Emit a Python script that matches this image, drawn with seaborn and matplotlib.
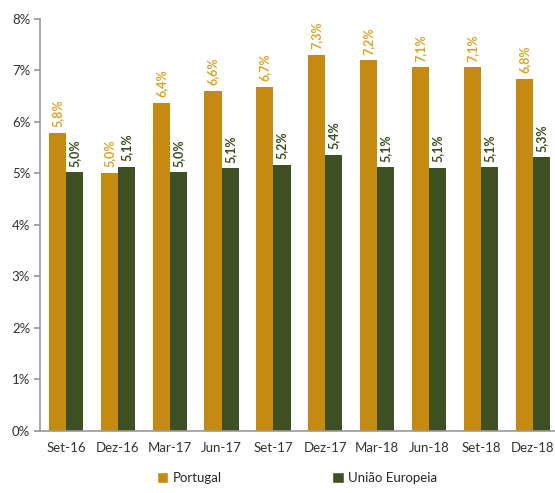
import matplotlib
matplotlib.use("Agg")
import matplotlib.pyplot as plt
import seaborn as sns
import pandas as pd
from matplotlib.patches import Patch
from matplotlib.ticker import FixedLocator

categories = ["Set-16", "Dez-16", "Mar-17", "Jun-17", "Set-17", "Dez-17", "Mar-18", "Jun-18", "Set-18", "Dez-18"]
portugal = [5.79, 5.01, 6.37, 6.60, 6.68, 7.30, 7.19, 7.06, 7.06, 6.83]
ue = [5.02, 5.13, 5.02, 5.10, 5.16, 5.36, 5.12, 5.11, 5.12, 5.31]
series = ["Portugal", "União Europeia"]
colors = ["#C48A12", "#3F5124"]
label_colors = ["#D9A528", "#3A4D22"]

df = pd.DataFrame({
    "cat": categories * 2,
    "val": portugal + ue,
    "serie": [series[0]] * len(categories) + [series[1]] * len(categories),
})

sns.set_theme(style="white")
plt.rcParams["font.family"] = ["Lato", "DejaVu Sans"]

fig = plt.figure(figsize=(5.55, 4.93), dpi=100)
ax = fig.add_axes([0.072, 0.126, 0.935, 0.836])
sns.barplot(data=df, x="cat", y="val", hue="serie", palette=colors, ax=ax,
            width=0.66, saturation=1, legend=False, linewidth=0)

for cont, lc in zip(ax.containers, label_colors):
    for bar in cont:
        h = bar.get_height()
        ax.annotate(f"{h:.1f}".replace(".", ",") + "%",
                    (bar.get_x() + bar.get_width() / 2, h),
                    xytext=(0, 4), textcoords="offset points",
                    rotation=90, ha="center", va="bottom",
                    fontsize=9, color=lc, fontweight="bold")

ax.set_ylim(0, 8)
ax.set_xlim(-0.5, len(categories) - 0.5)
ax.set_yticks(range(0, 9))
ax.set_yticklabels([f"{i}%" for i in range(0, 9)], fontsize=9.5, color="#333333")
ax.tick_params(axis="x", length=0, labelsize=9.5, colors="#333333", pad=8)
ax.xaxis.set_minor_locator(FixedLocator([i - 0.5 for i in range(len(categories) + 1)]))
ax.tick_params(axis="x", which="minor", length=4, color="#999999", direction="out")
ax.tick_params(axis="y", length=4, color="#999999", direction="out", left=True, pad=3)
ax.set_xlabel("")
ax.set_ylabel("")
for s in ["top", "right"]:
    ax.spines[s].set_visible(False)
for s in ["left", "bottom"]:
    ax.spines[s].set_color("#999999")
    ax.spines[s].set_linewidth(1.2)

handles = [Patch(facecolor=c, label=s) for c, s in zip(colors, series)]
fig.legend(handles=handles, loc="lower center", ncol=2, frameon=False,
           bbox_to_anchor=(0.535, -0.005), fontsize=9.5, columnspacing=8.4,
           handlelength=0.9, handleheight=0.9, handletextpad=0.3)

fig.savefig("out.png", dpi=100)
